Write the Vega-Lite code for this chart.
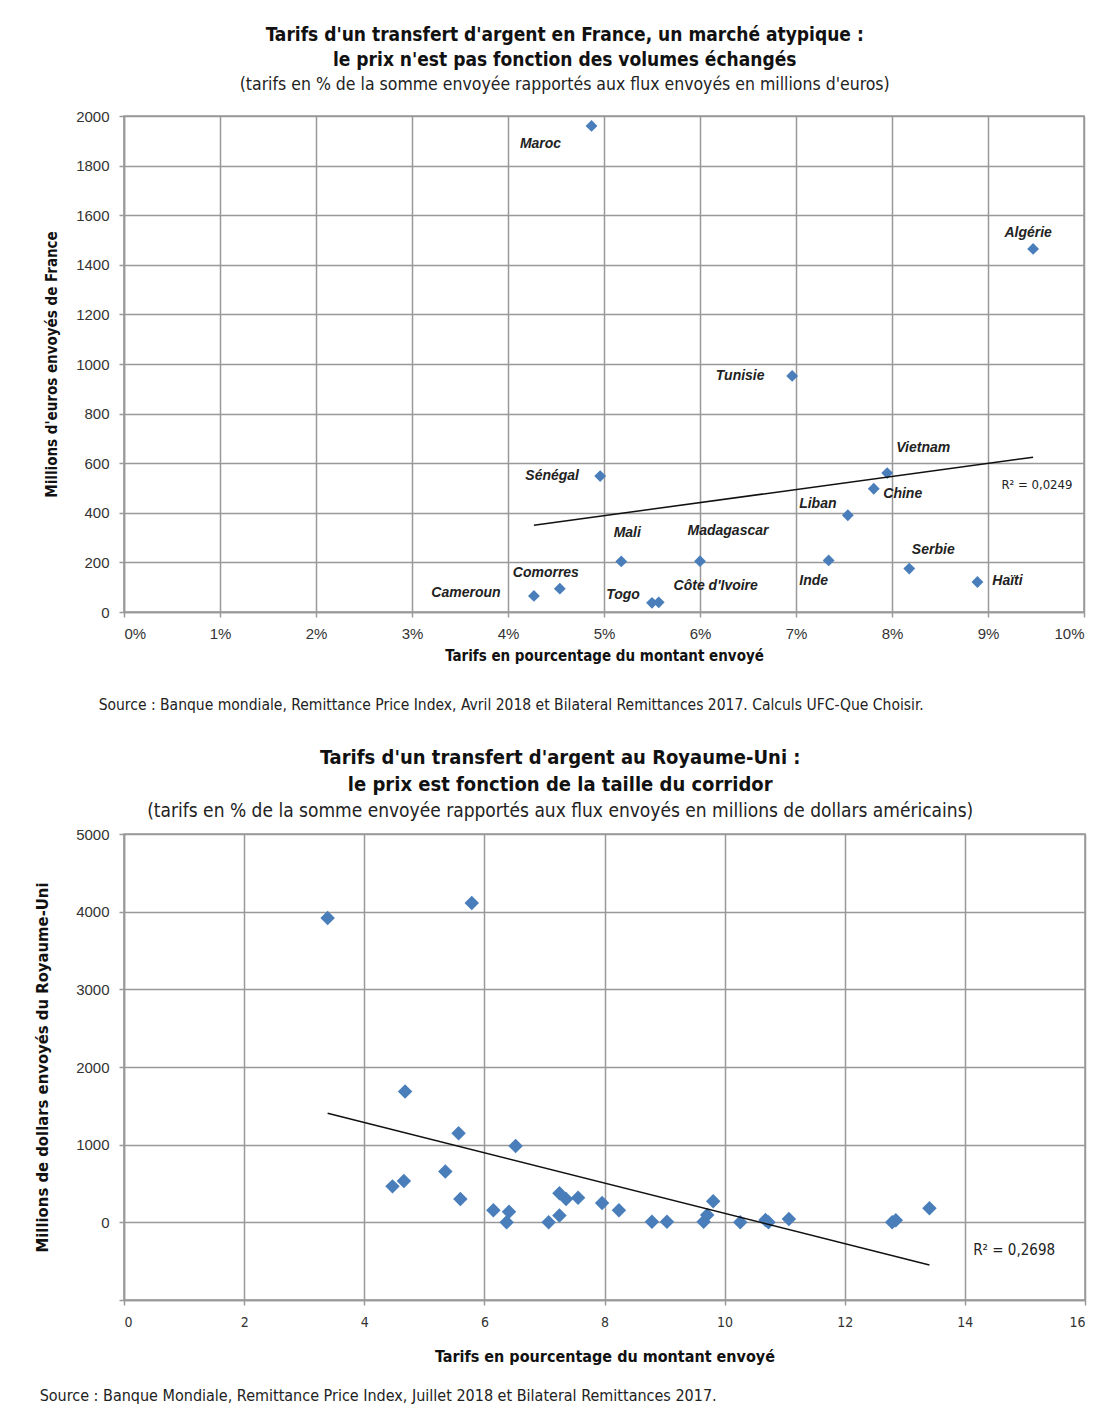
{
  "$schema": "https://vega.github.io/schema/vega-lite/v6.json",
  "padding": {"left": 33, "top": 25, "right": 5, "bottom": 0},
  "background": "white",
  "spacing": 33,
  "config": {
    "view": {"stroke": "#999", "strokeWidth": 1.5},
    "axis": {
      "gridColor": "#999", "gridWidth": 1.5, "domainColor": "#999", "domainWidth": 1.5,
      "tickColor": "#999", "tickSize": 5, "tickWidth": 1.5,
      "labelFont": "Liberation Sans", "labelColor": "#333",
      "titleFont": "'DejaVu Sans Condensed', 'Liberation Sans Narrow', Roboto, sans-serif", "titleFontWeight": "bold", "titleColor": "#111"
    },
    "text": {"font": "Liberation Sans", "fontStyle": "italic", "fontWeight": "bold", "fontSize": 14, "color": "#222", "baseline": "middle", "align": "center"},
    "concat": {"spacing": 0}
  },
  "vconcat": [
    {
      "title": {
        "text": ["Tarifs d'un transfert d'argent en France, un marché atypique :", "le prix n'est pas fonction des volumes échangés"],
        "subtitle": "(tarifs en % de la somme envoyée rapportés aux flux envoyés en millions d'euros)",
        "anchor": "middle", "frame": "bounds",
        "font": "'DejaVu Sans Condensed', 'Liberation Sans Narrow', Roboto, sans-serif", "fontSize": 19, "fontWeight": "bold", "color": "#111", "lineHeight": 25,
        "subtitleFont": "'DejaVu Sans Condensed', 'Liberation Sans Narrow', Roboto, sans-serif", "subtitleFontSize": 17.5, "subtitleColor": "#222", "subtitlePadding": 6,
        "offset": 15
      },
      "vconcat": [
        {
          "width": 960,
          "height": 496,
          "title": {
            "text": "Source : Banque mondiale, Remittance Price Index, Avril 2018 et Bilateral Remittances 2017. Calculs UFC-Que Choisir.",
            "orient": "bottom", "anchor": "start", "frame": "bounds", "dx": 54,
            "font": "'DejaVu Sans Condensed', 'Liberation Sans Narrow', Roboto, sans-serif", "fontSize": 15.5, "fontWeight": "normal", "color": "#222", "offset": 35
          },
          "data": {"values": [
            {"pays": "Maroc", "tarif": 4.87, "flux": 1960},
            {"pays": "Algérie", "tarif": 9.47, "flux": 1464},
            {"pays": "Tunisie", "tarif": 6.96, "flux": 952},
            {"pays": "Sénégal", "tarif": 4.96, "flux": 548},
            {"pays": "Vietnam", "tarif": 7.95, "flux": 560},
            {"pays": "Chine", "tarif": 7.81, "flux": 497},
            {"pays": "Liban", "tarif": 7.54, "flux": 390},
            {"pays": "Mali", "tarif": 5.18, "flux": 204},
            {"pays": "Madagascar", "tarif": 6.0, "flux": 205},
            {"pays": "Inde", "tarif": 7.34, "flux": 208},
            {"pays": "Serbie", "tarif": 8.18, "flux": 175},
            {"pays": "Haïti", "tarif": 8.89, "flux": 121},
            {"pays": "Comorres", "tarif": 4.54, "flux": 94},
            {"pays": "Cameroun", "tarif": 4.27, "flux": 65},
            {"pays": "Togo", "tarif": 5.5, "flux": 37},
            {"pays": "Côte d'Ivoire", "tarif": 5.57, "flux": 39}
          ]},
          "encoding": {
            "x": {"field": "tarif", "type": "quantitative",
              "scale": {"domain": [0, 10], "nice": false},
              "axis": {"values": [0,1,2,3,4,5,6,7,8,9,10], "labelExpr": "datum.value + '%'", "labelFontSize": 15, "labelPadding": 9,
                "title": "Tarifs en pourcentage du montant envoyé", "titleFontSize": 15, "titlePadding": 7}},
            "y": {"field": "flux", "type": "quantitative",
              "scale": {"domain": [0, 2000], "nice": false},
              "axis": {"values": [0,200,400,600,800,1000,1200,1400,1600,1800,2000], "format": "d", "labelFontSize": 15, "labelPadding": 10,
                "title": "Millions d'euros envoyés de France", "titleFontSize": 15, "titlePadding": 16}}
          },
          "layer": [
            {"mark": {"type": "point", "shape": "diamond", "filled": true, "size": 140, "color": "#4a7ebb", "opacity": 1}},
            {"data": {"values": [{"tarif": 4.27, "flux": 350}, {"tarif": 9.47, "flux": 624}]},
             "mark": {"type": "line", "color": "#111", "strokeWidth": 1.5}},
            {"data": {"values": [{"tarif": 9.51, "flux": 512, "r2": "R² = 0,0249"}]},
             "mark": {"type": "text", "fontStyle": "normal", "fontWeight": "normal", "fontSize": 13, "font": "'DejaVu Sans Condensed', 'Liberation Sans Narrow', Roboto, sans-serif"},
             "encoding": {"text": {"field": "r2"}}},
            {"transform": [{"filter": "datum.pays === 'Maroc'"}], "mark": {"type": "text", "dx": -51, "dy": 18}, "encoding": {"text": {"field": "pays"}}},
            {"transform": [{"filter": "datum.pays === 'Algérie'"}], "mark": {"type": "text", "dx": -5, "dy": -16}, "encoding": {"text": {"field": "pays"}}},
            {"transform": [{"filter": "datum.pays === 'Tunisie'"}], "mark": {"type": "text", "dx": -52, "dy": 0}, "encoding": {"text": {"field": "pays"}}},
            {"transform": [{"filter": "datum.pays === 'Sénégal'"}], "mark": {"type": "text", "dx": -48, "dy": 0}, "encoding": {"text": {"field": "pays"}}},
            {"transform": [{"filter": "datum.pays === 'Vietnam'"}], "mark": {"type": "text", "dx": 36, "dy": -25}, "encoding": {"text": {"field": "pays"}}},
            {"transform": [{"filter": "datum.pays === 'Chine'"}], "mark": {"type": "text", "dx": 29, "dy": 5}, "encoding": {"text": {"field": "pays"}}},
            {"transform": [{"filter": "datum.pays === 'Liban'"}], "mark": {"type": "text", "dx": -30, "dy": -11}, "encoding": {"text": {"field": "pays"}}},
            {"transform": [{"filter": "datum.pays === 'Mali'"}], "mark": {"type": "text", "dx": 6, "dy": -28}, "encoding": {"text": {"field": "pays"}}},
            {"transform": [{"filter": "datum.pays === 'Madagascar'"}], "mark": {"type": "text", "dx": 28, "dy": -30}, "encoding": {"text": {"field": "pays"}}},
            {"transform": [{"filter": "datum.pays === 'Inde'"}], "mark": {"type": "text", "dx": -15, "dy": 21}, "encoding": {"text": {"field": "pays"}}},
            {"transform": [{"filter": "datum.pays === 'Serbie'"}], "mark": {"type": "text", "dx": 24, "dy": -19}, "encoding": {"text": {"field": "pays"}}},
            {"transform": [{"filter": "datum.pays === 'Haïti'"}], "mark": {"type": "text", "dx": 30, "dy": -1}, "encoding": {"text": {"field": "pays"}}},
            {"transform": [{"filter": "datum.pays === 'Comorres'"}], "mark": {"type": "text", "dx": -14, "dy": -16}, "encoding": {"text": {"field": "pays"}}},
            {"transform": [{"filter": "datum.pays === 'Cameroun'"}], "mark": {"type": "text", "dx": -68, "dy": -3}, "encoding": {"text": {"field": "pays"}}},
            {"transform": [{"filter": "datum.pays === 'Togo'"}], "mark": {"type": "text", "dx": -29, "dy": -8}, "encoding": {"text": {"field": "pays"}}},
            {"transform": [{"filter": "datum.pays === \"Côte d'Ivoire\""}], "mark": {"type": "text", "dx": 57, "dy": -16}, "encoding": {"text": {"field": "pays"}}}
          ]
        }
      ]
    },
    {
      "title": {
        "text": ["Tarifs d'un transfert d'argent au Royaume-Uni  :", "le prix est fonction de la taille du corridor"],
        "subtitle": "(tarifs en % de la somme  envoyée rapportés aux flux envoyés en millions de dollars américains)",
        "anchor": "middle", "frame": "bounds",
        "font": "'DejaVu Sans Condensed', 'Liberation Sans Narrow', Roboto, sans-serif", "fontSize": 20, "fontWeight": "bold", "color": "#111", "lineHeight": 27,
        "subtitleFont": "'DejaVu Sans Condensed', 'Liberation Sans Narrow', Roboto, sans-serif", "subtitleFontSize": 19, "subtitleColor": "#222", "subtitlePadding": 7,
        "offset": 5
      },
      "vconcat": [
        {
          "width": 961,
          "height": 466,
          "title": {
            "text": "Source  : Banque  Mondiale,  Remittance  Price  Index,  Juillet  2018 et Bilateral  Remittances  2017.",
            "orient": "bottom", "anchor": "start", "frame": "bounds", "dx": 5,
            "font": "'DejaVu Sans Condensed', 'Liberation Sans Narrow', Roboto, sans-serif", "fontSize": 16, "fontWeight": "normal", "color": "#222", "offset": 24
          },
          "data": {"values": [
            {"tarif": 3.39, "flux": 3920},
            {"tarif": 5.79, "flux": 4113},
            {"tarif": 4.68, "flux": 1684},
            {"tarif": 5.57, "flux": 1146},
            {"tarif": 6.52, "flux": 983},
            {"tarif": 5.35, "flux": 653},
            {"tarif": 4.47, "flux": 463},
            {"tarif": 4.66, "flux": 533},
            {"tarif": 5.6, "flux": 300},
            {"tarif": 6.15, "flux": 156},
            {"tarif": 6.41, "flux": 135},
            {"tarif": 6.37, "flux": 0},
            {"tarif": 7.07, "flux": 0},
            {"tarif": 7.25, "flux": 88},
            {"tarif": 7.25, "flux": 373},
            {"tarif": 7.36, "flux": 300},
            {"tarif": 7.56, "flux": 318},
            {"tarif": 7.96, "flux": 248},
            {"tarif": 8.24, "flux": 156},
            {"tarif": 8.79, "flux": 8},
            {"tarif": 9.04, "flux": 8},
            {"tarif": 9.65, "flux": 8},
            {"tarif": 9.71, "flux": 95},
            {"tarif": 9.81, "flux": 272},
            {"tarif": 10.26, "flux": 0},
            {"tarif": 10.68, "flux": 30},
            {"tarif": 10.73, "flux": 0},
            {"tarif": 11.07, "flux": 42},
            {"tarif": 12.79, "flux": 0},
            {"tarif": 12.85, "flux": 26},
            {"tarif": 13.41, "flux": 180}
          ]},
          "encoding": {
            "x": {"field": "tarif", "type": "quantitative",
              "scale": {"domain": [0, 16], "nice": false},
              "axis": {"values": [0,2,4,6,8,10,12,14,16], "labelFontSize": 14, "labelPadding": 10, "labelFont": "'DejaVu Sans Condensed', 'Liberation Sans Narrow', Roboto, sans-serif",
                "title": "Tarifs en pourcentage du montant envoyé", "titleFontSize": 16, "titlePadding": 19}},
            "y": {"field": "flux", "type": "quantitative",
              "scale": {"domain": [-1000, 5000], "nice": false},
              "axis": {"values": [-1000,0,1000,2000,3000,4000,5000], "labelExpr": "datum.value < 0 ? '' : datum.value", "labelFontSize": 15, "labelPadding": 10,
                "title": "Millions de dollars envoyés du Royaume-Uni", "titleFontSize": 16.5, "titlePadding": 25}}
          },
          "layer": [
            {"mark": {"type": "point", "shape": "diamond", "filled": true, "size": 210, "color": "#4a7ebb", "opacity": 1}},
            {"data": {"values": [{"tarif": 3.39, "flux": 1405}, {"tarif": 13.41, "flux": -549}]},
             "mark": {"type": "line", "color": "#111", "strokeWidth": 1.5}},
            {"data": {"values": [{"tarif": 14.82, "flux": -350, "r2": "R² = 0,2698"}]},
             "mark": {"type": "text", "fontStyle": "normal", "fontWeight": "normal", "fontSize": 15, "font": "'DejaVu Sans Condensed', 'Liberation Sans Narrow', Roboto, sans-serif"},
             "encoding": {"text": {"field": "r2"}}}
          ]
        }
      ]
    }
  ]
}
